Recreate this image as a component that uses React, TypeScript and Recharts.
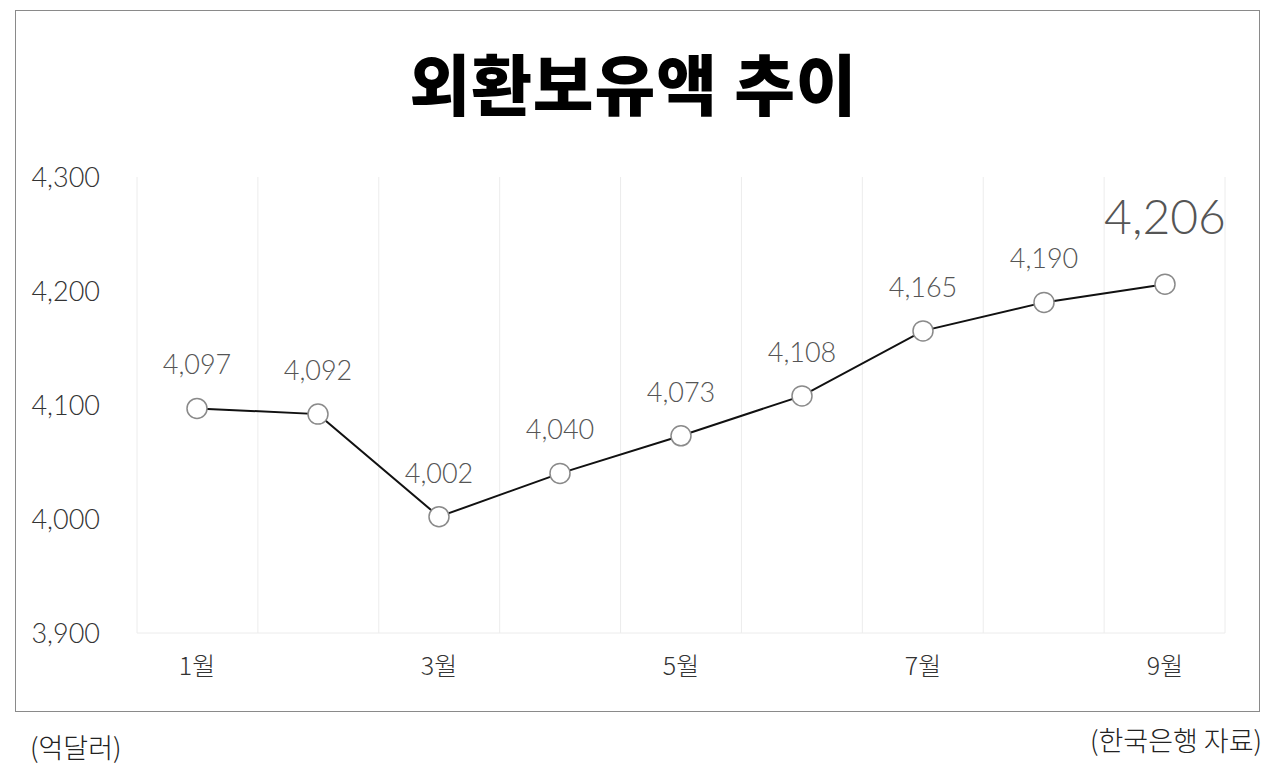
import React from "react";
import { LineChart, Line, XAxis, YAxis, CartesianGrid, LabelList } from "recharts";

const months = ["1월", "2월", "3월", "4월", "5월", "6월", "7월", "8월", "9월"];
const reserves = [4097, 4092, 4002, 4040, 4073, 4108, 4165, 4190, 4206];
const yTicks = [3900, 4000, 4100, 4200, 4300];

const data = months.map((m, i) => ({ month: m, value: reserves[i] }));

const fmt = (v: number) => v.toLocaleString("en-US");

const NUM_FONT = "Lato, 'Noto Sans', sans-serif";
const KR_FONT = "'Noto Sans CJK KR', sans-serif";

const renderLabel = (props: any) => {
  const { x, y, value, index } = props;
  const last = index === reserves.length - 1;
  return (
    <text
      x={x}
      y={last ? y - 50 : y - 34}
      textAnchor="middle"
      fill="#555"
      fontFamily={NUM_FONT}
      fontWeight={300}
      fontSize={last ? 48 : 27}
    >
      {fmt(value)}
    </text>
  );
};

export default function App() {
  return (
    <div style={{ position: "absolute", left: 0, top: 0, width: 1287, height: 783, background: "#fff" }}>
      <div
        style={{
          position: "absolute",
          left: 15,
          top: 10,
          width: 1245,
          height: 702,
          border: "1px solid #8a8a8a",
          boxSizing: "border-box",
        }}
      />
      <div
        style={{
          position: "absolute",
          left: 0,
          width: 1267,
          top: 36,
          textAlign: "center",
          fontFamily: KR_FONT,
          fontWeight: 900,
          fontSize: 66,
          lineHeight: "90px",
          color: "#000",
          letterSpacing: 1,
        }}
      >
        외환보유액 추이
      </div>
      <LineChart
        width={1287}
        height={783}
        data={data}
        margin={{ top: 177, right: 62, bottom: 120, left: 37 }}
        style={{ position: "absolute", left: 0, top: 0 }}
      >
        <CartesianGrid
          horizontal={false}
          stroke="#ececec"
          verticalCoordinatesGenerator={({ offset }: any) =>
            months.map((_, i) => offset.left + (i * offset.width) / months.length).concat(offset.left + offset.width)
          }
        />
        <XAxis
          dataKey="month"
          interval={1}
          padding={{ left: 60, right: 60 }}
          tickLine={false}
          axisLine={{ stroke: "#ececec" }}
          tickMargin={18}
          tick={{ fill: "#333", fontFamily: KR_FONT, fontWeight: 300, fontSize: 25 }}
        />
        <YAxis
          width={100}
          domain={[3900, 4300]}
          ticks={yTicks}
          tickFormatter={fmt}
          axisLine={false}
          tickLine={false}
          tickMargin={31}
          tick={{ fill: "#333", fontFamily: NUM_FONT, fontWeight: 300, fontSize: 27 }}
        />
        <Line
          type="linear"
          dataKey="value"
          stroke="#111"
          strokeWidth={2}
          isAnimationActive={false}
          dot={{ r: 10, fill: "#fff", stroke: "#8a8a8a", strokeWidth: 1.5 }}
        >
          <LabelList dataKey="value" content={renderLabel} />
        </Line>
      </LineChart>
      <div
        style={{
          position: "absolute",
          left: 30,
          top: 727,
          fontFamily: KR_FONT,
          fontWeight: 300,
          fontSize: 27,
          color: "#222",
        }}
      >
        (억달러)
      </div>
      <div
        style={{
          position: "absolute",
          right: 25,
          top: 720,
          fontFamily: KR_FONT,
          fontWeight: 300,
          fontSize: 27,
          color: "#222",
        }}
      >
        (한국은행 자료)
      </div>
    </div>
  );
}
